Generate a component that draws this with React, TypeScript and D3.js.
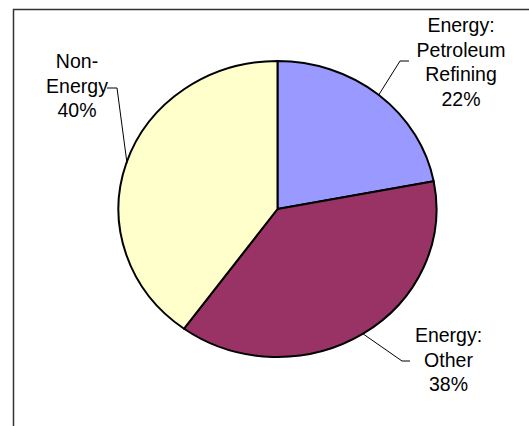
import React from "react";
import * as d3 from "d3";

const categories = ["Energy: Petroleum Refining", "Energy: Other", "Non-Energy"];
const values = [22, 38, 40];
const colors = ["#9999FF", "#993366", "#FFFFCC"];
const labelLines = [
  ["Energy:", "Petroleum", "Refining", "22%"],
  ["Energy:", "Other", "38%"],
  ["Non-", "Energy", "40%"],
];

const W = 529;
const H = 426;
const cx = 277.5;
const cy = 209;
const rx = 159;
const ry = 148;

export default function App() {
  const pie = d3
    .pie<number>()
    .sort(null)
    .startAngle(0)
    .endAngle(2 * Math.PI)
    .value((d) => d);
  const arcs = pie(values);
  const arc = d3.arc<d3.PieArcDatum<number>>().innerRadius(0).outerRadius(rx);

  const labelPos = [
    { x: 461, y: 32 },
    { x: 448.5, y: 342 },
    { x: 77, y: 68 },
  ];
  const lineH = 24.5;

  const edge = (angle: number, k = 1): [number, number] => [
    cx + Math.sin(angle) * rx * k,
    cy - Math.cos(angle) * ry * k,
  ];
  const line = d3.line();
  const mid = (a: d3.PieArcDatum<number>) => (a.startAngle + a.endAngle) / 2;
  const e0 = edge(mid(arcs[0]), 0.995);
  const e1 = edge(mid(arcs[1]), 0.995);
  const e2 = edge(mid(arcs[2]), 0.995);
  const leaders = [
    [[409, 61], [400, 61], e0],
    [e1, [402, 361], [410, 361]],
    [[107, 88], [117, 88], e2],
  ] as [number, number][][];

  return (
    <svg width={W} height={H} style={{ position: "absolute", left: 0, top: 0, background: "#fff" }}>
      <rect x={0} y={0} width={W} height={H} fill="#fff" />
      <path d={`M13.5,${H} L13.5,9.5 L${W},9.5`} fill="none" stroke="#333" strokeWidth={1.5} />
      <g transform={`translate(${cx},${cy}) scale(1,${ry / rx})`}>
        {arcs.map((a, i) => (
          <path
            key={categories[i]}
            d={arc(a) ?? ""}
            fill={colors[i]}
            stroke="#000"
            strokeWidth={2}
            vectorEffect="non-scaling-stroke"
            strokeLinejoin="round"
          />
        ))}
      </g>
      {leaders.map((pts, i) => (
        <path key={i} d={line(pts) ?? ""} fill="none" stroke="#000" strokeWidth={1} />
      ))}
      {labelLines.map((lines, i) => (
        <text
          key={i}
          fontFamily="'Liberation Sans', Arial, sans-serif"
          fontSize={19.5}
          fill="#000"
          textAnchor="middle"
        >
          {lines.map((t, j) => (
            <tspan key={j} x={labelPos[i].x} y={labelPos[i].y + j * lineH}>
              {t}
            </tspan>
          ))}
        </text>
      ))}
    </svg>
  );
}
